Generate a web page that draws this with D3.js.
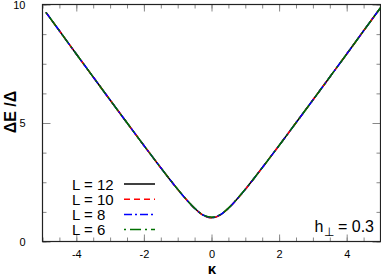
<!DOCTYPE html>
<html><head><meta charset="utf-8">
<script src="https://cdn.jsdelivr.net/npm/d3@7"></script>
<style>body{margin:0;background:#fff}svg{display:block}</style>
</head><body>
<svg id="c" width="381" height="276"></svg>
<script>
const kappa = [-4.9,-4.5,-4,-3.5,-3,-2.5,-2,-1.75,-1.5,-1.25,-1,-0.75,-0.5,-0.25,0,0.25,0.5,0.75,1,1.25,1.5,1.75,2,2.5,3,3.5,4,4.5,5];
const L12 = [9.67,8.89,7.91,6.94,5.97,5.01,4.05,3.58,3.11,2.65,2.20,1.78,1.40,1.11,1.00,1.11,1.40,1.78,2.20,2.65,3.11,3.58,4.05,5.01,5.97,6.94,7.91,8.89,9.86];
const L10 = [9.67,8.89,7.91,6.94,5.97,5.01,4.05,3.58,3.11,2.65,2.20,1.78,1.40,1.11,1.00,1.11,1.40,1.78,2.20,2.65,3.11,3.58,4.05,5.01,5.97,6.94,7.91,8.89,9.86];
const L8  = [9.67,8.89,7.91,6.94,5.97,5.01,4.05,3.58,3.11,2.65,2.20,1.78,1.40,1.12,1.01,1.12,1.40,1.78,2.20,2.65,3.11,3.58,4.05,5.01,5.97,6.94,7.91,8.89,9.86];
const L6  = [9.67,8.89,7.91,6.94,5.97,5.01,4.05,3.58,3.11,2.65,2.21,1.79,1.41,1.13,1.03,1.13,1.41,1.79,2.21,2.65,3.11,3.58,4.05,5.01,5.97,6.94,7.91,8.89,9.86];
const seriesNames = ["L = 12","L = 10","L = 8","L = 6"];
const xTicks = [-4,-2,0,2,4];
const yTicks = [0,5,10];

const series = [
  {name: seriesNames[0], values: L12, color: "#000000", dash: null},
  {name: seriesNames[1], values: L10, color: "#ff0000", dash: "6,4"},
  {name: seriesNames[2], values: L8,  color: "#0000ff", dash: "8,3,2,3"},
  {name: seriesNames[3], values: L6,  color: "#007000", dash: "2,4,11,4"}
];

const svg = d3.select("#c");
const X0 = 42.5, X1 = 380.5, Y0 = 241.5, Y1 = 4.5;
const x = d3.scaleLinear().domain([-5,5]).range([X0,X1]);
const y = d3.scaleLinear().domain([0,10]).range([Y0,Y1]);
const font = "'Liberation Sans', Arial, Helvetica, sans-serif";
const fmt = d => String(d);

svg.append("defs").append("clipPath").attr("id","clip")
  .append("rect").attr("x",X0).attr("y",Y1).attr("width",X1-X0).attr("height",Y0-Y1);

const xMinor = d3.range(-5,5.01,0.5);
const yMinor = d3.range(0,10.01,1.25);
const tickColor = "#888";
function styleAxis(g){ g.select(".domain").remove(); g.selectAll("line").attr("stroke",tickColor); }

svg.append("g").attr("transform",`translate(0,${Y0})`)
  .call(d3.axisBottom(x).tickValues(xMinor).tickSize(-4).tickFormat(""))
  .call(styleAxis);
svg.append("g").attr("transform",`translate(0,${Y0})`)
  .call(d3.axisBottom(x).tickValues(xTicks).tickSize(-7).tickPadding(9).tickFormat(fmt))
  .call(styleAxis)
  .call(g=>g.selectAll("text").attr("font-family",font).attr("font-size",11).attr("fill","#000"));
svg.append("g").attr("transform",`translate(0,${Y1})`)
  .call(d3.axisTop(x).tickValues(xMinor).tickSize(-4).tickFormat(""))
  .call(styleAxis);
svg.append("g").attr("transform",`translate(0,${Y1})`)
  .call(d3.axisTop(x).tickValues(xTicks).tickSize(-7).tickFormat(""))
  .call(styleAxis);

svg.append("g").attr("transform",`translate(${X0},0)`)
  .call(d3.axisLeft(y).tickValues(yMinor).tickSize(-4).tickFormat(""))
  .call(styleAxis);
svg.append("g").attr("transform",`translate(${X0},0)`)
  .call(d3.axisLeft(y).tickValues(yTicks).tickSize(-8).tickPadding(17).tickFormat(fmt))
  .call(styleAxis)
  .call(g=>g.selectAll("text").attr("font-family",font).attr("font-size",11).attr("fill","#000"));
svg.append("g").attr("transform",`translate(${X1},0)`)
  .call(d3.axisRight(y).tickValues(yMinor).tickSize(-4).tickFormat(""))
  .call(styleAxis);
svg.append("g").attr("transform",`translate(${X1},0)`)
  .call(d3.axisRight(y).tickValues(yTicks).tickSize(-8).tickFormat(""))
  .call(styleAxis);

svg.append("rect").attr("x",X0).attr("y",Y1).attr("width",X1-X0).attr("height",Y0-Y1)
  .attr("fill","none").attr("stroke","#222").attr("stroke-width",1.2);

const line = d3.line().x((d,i)=>x(kappa[i])).y(d=>y(d)).curve(d3.curveMonotoneX);
const plot = svg.append("g").attr("clip-path","url(#clip)");
series.forEach(s=>{
  plot.append("path").datum(s.values).attr("d",line)
    .attr("fill","none").attr("stroke",s.color).attr("stroke-width",1.5)
    .attr("stroke-dasharray",s.dash);
});

series.forEach((s,i)=>{
  const ly = 184 + i*15.2;
  svg.append("text").attr("x",72).attr("y",ly+5.5).text(s.name)
    .attr("font-family",font).attr("font-size",15).attr("fill","#000");
  svg.append("line").attr("x1",124).attr("x2",155).attr("y1",ly).attr("y2",ly)
    .attr("stroke",s.color).attr("stroke-width",1.5).attr("stroke-dasharray",s.dash);
});

const ann = svg.append("text").attr("x",374).attr("y",232).attr("text-anchor","end")
  .attr("font-family",font).attr("font-size",16).attr("fill","#000");
ann.append("tspan").text("h");
ann.append("tspan").attr("font-size",12).attr("dy",4).text("⊥");
ann.append("tspan").attr("dy",-4).text(" = 0.3");

svg.append("text").attr("transform","translate(16,112) rotate(-90)").attr("text-anchor","middle")
  .attr("font-family",font).attr("font-size",16).attr("font-weight","bold").attr("fill","#000")
  .text("ΔE /Δ");
svg.append("text").attr("x",212).attr("y",274).attr("text-anchor","middle")
  .attr("font-family",font).attr("font-size",15).attr("font-weight","bold").attr("fill","#000")
  .text("κ");
</script>
</body></html>
